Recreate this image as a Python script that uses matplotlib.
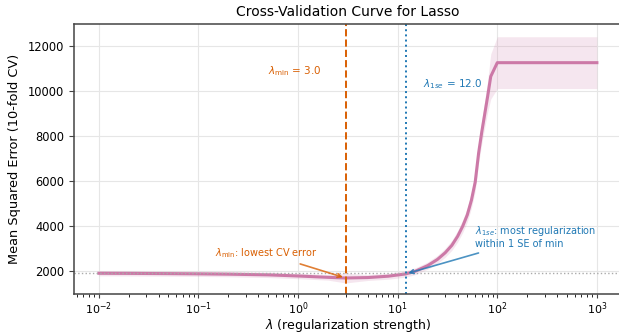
import matplotlib
matplotlib.use("Agg")
import matplotlib.pyplot as plt
import numpy as np

# regularization path
lambdas = [0.01, 0.02, 0.05, 0.1, 0.2, 0.5, 1.0, 2.0, 3.0, 5.0, 8.0, 12.0,
           15.0, 20.0, 25.0, 30.0, 35.0, 40.0, 45.0, 50.0, 55.0, 60.0, 65.0,
           70.0, 75.0, 80.0, 86.0, 100.0, 200.0, 500.0, 1000.0]
cv_mse = [1910, 1905, 1895, 1885, 1870, 1840, 1790, 1730, 1700, 1720, 1780, 1880,
          2000, 2250, 2520, 2820, 3150, 3550, 4000, 4500, 5150, 5950, 7250,
          8200, 9000, 9750, 10640, 11250, 11250, 11250, 11250]
cv_se = [115, 115, 115, 115, 115, 118, 120, 125, 220, 130, 135, 140,
         150, 160, 180, 200, 220, 250, 280, 310, 350, 400, 450,
         520, 600, 700, 1000, 1150, 1150, 1150, 1150]

lam_min = 3.0
lam_1se = 12.0

c_curve = '#CC79A7'
c_min = '#D95F02'
c_1se = '#1F78B4'

lambdas = np.array(lambdas)
cv_mse = np.array(cv_mse)
cv_se = np.array(cv_se)
i_min = np.argmin(cv_mse)
threshold = cv_mse[i_min] + cv_se[i_min]

fig = plt.figure(figsize=(6.19, 3.35), dpi=100)
ax = fig.add_axes([0.1195, 0.123, 0.885, 0.805])

ax.fill_between(lambdas, cv_mse - cv_se, cv_mse + cv_se, color=c_curve, alpha=0.18, lw=0)
ax.plot(lambdas, cv_mse, color=c_curve, lw=2.2)
ax.axhline(threshold, color='#aaaaaa', ls=':', lw=1)
ax.axvline(lam_min, color=c_min, ls='--', lw=1.4)
ax.axvline(lam_1se, color=c_1se, ls=':', lw=1.4)

ax.text(lam_min * 0.58, 10860, r'$\lambda_{\mathrm{min}}$ = 3.0', color=c_min,
        ha='right', va='center', fontsize=7.5)
ax.text(lam_1se * 1.5, 10290, r'$\lambda_{1se}$ = 12.0', color=c_1se,
        ha='left', va='center', fontsize=7.5)

ax.annotate(r'$\lambda_{\mathrm{min}}$: lowest CV error', xy=(lam_min, cv_mse[i_min]),
            xytext=(0.48, 2790), color=c_min, fontsize=7, ha='center', va='center',
            arrowprops=dict(arrowstyle='->', color=c_min, alpha=0.8, lw=1.2))
i_1se = list(lambdas).index(lam_1se)
ax.annotate(r'$\lambda_{1se}$: most regularization' + '\nwithin 1 SE of min',
            xy=(lam_1se, cv_mse[i_1se]), xytext=(59.4, 3535), color=c_1se,
            fontsize=7, ha='left', va='center',
            arrowprops=dict(arrowstyle='->', color=c_1se, alpha=0.8, lw=1.2))

ax.set_xscale('log')
ax.set_xlim(10 ** -2.25, 10 ** 3.25)
ax.set_ylim(1000, 12960)
ax.grid(True, which='major', color='#e6e6e6', lw=0.8)
ax.set_axisbelow(True)
for s in ax.spines.values():
    s.set_color('#444444')
    s.set_linewidth(1.1)
ax.tick_params(labelsize=8.3, color='#444444')
ax.tick_params(axis='x', which='major', pad=1.5, length=3, labelsize=8)
ax.tick_params(axis='x', which='minor', length=2)
ax.set_xlabel(r'$\lambda$ (regularization strength)', fontsize=9, va='bottom')
ax.xaxis.set_label_coords(0.5, -0.149)
ax.set_ylabel('Mean Squared Error (10-fold CV)', fontsize=9.3, labelpad=5)
ax.set_title('Cross-Validation Curve for Lasso', fontsize=10)

fig.savefig('out.png', dpi=100)
